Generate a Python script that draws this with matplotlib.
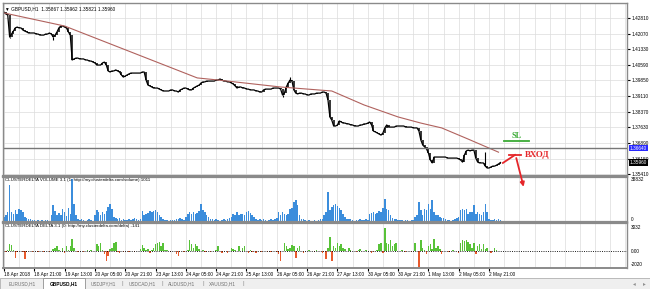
import numpy as np
import matplotlib.pyplot as plt
from matplotlib.patches import Rectangle

plt.rcParams['font.family'] = ['Liberation Sans', 'DejaVu Sans']

# GBPUSD H1 closes, one per bar (bar 0 = 18 Apr 2018)
close = [
    1.4309, 1.4300, 1.4295, 1.4191, 1.4205, 1.4219, 1.4234, 1.4238, 1.4234, 1.4234,
    1.4224, 1.4219, 1.4215, 1.4210, 1.4210, 1.4210, 1.4210, 1.4205, 1.4205, 1.4200,
    1.4200, 1.4200, 1.4205, 1.4205, 1.4210, 1.4205, 1.4191, 1.4200, 1.4215, 1.4234,
    1.4243, 1.4243, 1.4238, 1.4234, 1.4215, 1.4200, 1.4082, 1.4087, 1.4091, 1.4091,
    1.4087, 1.4087, 1.4087, 1.4082, 1.4082, 1.4077, 1.4077, 1.4072, 1.4068, 1.4058,
    1.4058, 1.4058, 1.4068, 1.4072, 1.4058, 1.4030, 1.4025, 1.4030, 1.4030, 1.4035,
    1.4030, 1.4025, 1.4011, 1.4001, 1.4006, 1.4011, 1.4016, 1.4020, 1.4020, 1.4020,
    1.4020, 1.4020, 1.4020, 1.4025, 1.4025, 1.3987, 1.3963, 1.3959, 1.3954, 1.3949,
    1.3949, 1.3949, 1.3944, 1.3940, 1.3935, 1.3935, 1.3935, 1.3935, 1.3940, 1.3940,
    1.3935, 1.3935, 1.3930, 1.3940, 1.3944, 1.3949, 1.3949, 1.3944, 1.3940, 1.3940,
    1.3949, 1.3954, 1.3959, 1.3963, 1.3973, 1.3978, 1.3978, 1.3982, 1.3982, 1.3982,
    1.3982, 1.3982, 1.3987, 1.3987, 1.3992, 1.3987, 1.3982, 1.3982, 1.3978, 1.3978,
    1.3973, 1.3968, 1.3959, 1.3949, 1.3954, 1.3954, 1.3949, 1.3949, 1.3944, 1.3944,
    1.3940, 1.3940, 1.3940, 1.3935, 1.3935, 1.3930, 1.3930, 1.3940, 1.3944, 1.3944,
    1.3944, 1.3944, 1.3949, 1.3949, 1.3949, 1.3949, 1.3944, 1.3916, 1.3925, 1.3954,
    1.3973, 1.3987, 1.3982, 1.3940, 1.3925, 1.3921, 1.3925, 1.3925, 1.3921, 1.3921,
    1.3916, 1.3916, 1.3921, 1.3921, 1.3921, 1.3925, 1.3925, 1.3925, 1.3930, 1.3930,
    1.3925, 1.3892, 1.3812, 1.3797, 1.3769, 1.3769, 1.3774, 1.3793, 1.3788, 1.3783,
    1.3783, 1.3779, 1.3779, 1.3774, 1.3774, 1.3769, 1.3769, 1.3769, 1.3774, 1.3774,
    1.3779, 1.3779, 1.3783, 1.3788, 1.3774, 1.3745, 1.3741, 1.3736, 1.3731, 1.3726,
    1.3736, 1.3760, 1.3774, 1.3764, 1.3764, 1.3764, 1.3764, 1.3769, 1.3769, 1.3769,
    1.3769, 1.3769, 1.3764, 1.3764, 1.3764, 1.3764, 1.3760, 1.3760, 1.3760, 1.3745,
    1.3703, 1.3679, 1.3670, 1.3660, 1.3641, 1.3608, 1.3594, 1.3622, 1.3622, 1.3622,
    1.3622, 1.3622, 1.3622, 1.3622, 1.3617, 1.3617, 1.3617, 1.3617, 1.3617, 1.3617,
    1.3613, 1.3608, 1.3598, 1.3632, 1.3651, 1.3655, 1.3651, 1.3655, 1.3655, 1.3617,
    1.3598, 1.3594, 1.3594, 1.3594, 1.3579, 1.3570, 1.3570, 1.3575, 1.3579, 1.3579,
    1.3584, 1.3589, 1.3596,
]
wick_bars = [3, 26, 147, 151, 254]
wick_vals = [1.4186, 1.4177, 1.3907, 1.4001, 1.3646]

# moving average read at a few bars
ma_bars = [0, 32, 102, 113, 146, 173, 190, 208, 220, 231, 245, 261]
ma_vals = [1.4305, 1.4243, 1.3997, 1.3987, 1.3954, 1.3935, 1.3869, 1.3812,
           1.3783, 1.3760, 1.3707, 1.3645]

volume = [
    4500, 6300, 9000, 33300, 9000, 7200, 10800, 7200, 11700, 10800,
    9000, 4500, 3600, 2700, 2700, 1800, 1800, 900, 1800, 900,
    1800, 900, 1800, 1800, 900, 6300, 15300, 9900, 6300, 8100,
    6300, 11700, 9000, 5400, 12600, 7200, 38832, 16200, 6300, 2700,
    1800, 2700, 1800, 900, 1800, 2700, 1800, 900, 6300, 10800,
    9000, 6300, 9000, 7200, 9900, 13500, 16200, 11700, 4500, 3600,
    2700, 3600, 1800, 2700, 1800, 1800, 2700, 1800, 2700, 3600,
    2700, 1800, 2700, 9900, 6300, 7200, 8100, 9900, 9000, 9900,
    10800, 9000, 6300, 4500, 2700, 1800, 1800, 900, 1800, 1800,
    1800, 2700, 2700, 3600, 2700, 1800, 4500, 7200, 9000, 7200,
    9000, 7200, 8100, 9900, 16200, 10800, 9000, 6300, 4500, 2700,
    2700, 1800, 2700, 1800, 900, 1800, 2700, 1800, 2700, 3600,
    4500, 7200, 6300, 9000, 6300, 7200, 7200, 6300, 9000, 9900,
    8100, 6300, 4500, 2700, 1800, 2700, 1800, 2700, 1800, 900,
    1800, 2700, 1800, 2700, 3600, 9000, 6300, 9000, 7200, 6300,
    7200, 11700, 12600, 18000, 19800, 15300, 6300, 2700, 2700, 1800,
    900, 1800, 900, 900, 1800, 900, 1800, 2700, 2700, 6300,
    9000, 27000, 10800, 13500, 15300, 16200, 14400, 12600, 10800, 7200,
    4500, 2700, 2700, 2700, 1800, 900, 1800, 1800, 2700, 1800,
    1800, 2700, 1800, 7200, 8100, 9000, 7200, 8100, 9900, 9000,
    12600, 20700, 11700, 10800, 6300, 3600, 2700, 2700, 1800, 1800,
    1800, 900, 1800, 1800, 900, 1800, 1800, 4500, 6300, 18000,
    10800, 6300, 11700, 10800, 16200, 11700, 19800, 9000, 6300, 6300,
    4500, 3600, 3600, 2700, 1800, 1800, 900, 1800, 2700, 3600,
    4500, 10800, 11700, 10800, 11700, 7200, 9000, 9000, 15300, 7200,
    9000, 7200, 6300, 9000, 16200, 9000, 2700, 1800, 1800, 2700,
    1800, 2700, 1800,
]

delta = [
    60, -50, 120, 880, 760, 130, -880, -120, 60, 50,
    -130, -1010, -110, 60, 40, -60, 70, 50, -40, 60,
    50, -60, 70, 40, -50, 60, 250, 380, 630, 120,
    60, 380, -250, 630, 130, 630, 1640, 380, 60, -50,
    60, 70, -60, 50, 120, 60, 130, 50, 70, 880,
    630, 1010, 120, -380, -1260, -630, 250, 380, 1010, 1260,
    -130, -250, 60, -50, 70, 60, -60, 50, 60, -50,
    60, 50, 250, 760, 380, 130, 250, -250, 120, 380,
    880, 1010, 1260, 630, 1010, 130, 120, 60, -50, 70,
    60, -380, -630, 60, 50, -60, 70, 130, 1510, 880,
    380, 880, 630, 250, 60, 130, -60, 70, 50, -60,
    60, 50, 130, 630, 60, -250, 50, 70, -250, 60,
    380, 250, 130, 60, 630, 70, 380, 630, 60, -250,
    130, -130, 60, -250, 50, 70, -60, 60, 50, -50,
    60, -130, 50, 70, -60, -380, -1260, 60, 1010, 630,
    250, 380, 760, 630, -880, 380, 630, 60, -250, 50,
    60, 130, 50, 70, -60, 130, 60, 50, -250, 70,
    -1010, 380, 1890, -1260, 630, 380, 1010, 630, 880, 380,
    250, 60, 380, 130, 50, 70, -60, 130, 250, 60,
    50, 130, 60, 70, -250, -130, 60, 130, 880, 1010,
    -250, 3032, 1010, 880, 1510, 630, 880, 1010, 60, 50,
    130, 60, -60, 70, 50, -50, 60, 1010, 60, -2020,
    1510, 380, 130, -380, 630, 880, 250, 1640, 380, 630,
    250, -380, 60, 50, 70, -60, 50, 130, 60, 70,
    -250, 1010, 1510, 1390, 1510, 1260, 880, 380, 1010, -380,
    630, 880, 250, 880, 250, 380, 60, -250, 70, 380,
    130, 60, 50,
]

time_labels = ['18 Apr 2018', '18 Apr 21:00', '19 Apr 13:00', '20 Apr 05:00',
               '20 Apr 21:00', '23 Apr 13:00', '24 Apr 05:00', '24 Apr 21:00',
               '25 Apr 13:00', '26 Apr 05:00', '26 Apr 21:00', '27 Apr 13:00',
               '30 Apr 05:00', '30 Apr 21:00', '1 May 13:00', '2 May 05:00',
               '2 May 21:00']
price_ticks = [1.42810, 1.42070, 1.41330, 1.40590, 1.39850, 1.39110,
               1.38370, 1.37630, 1.36890, 1.36150, 1.35410]
hline_price = 1.36640
bid_price = 1.35960
tabs = ['EURUSD,H1', 'GBPUSD,H1', 'USDJPY,H1', 'USDCAD,H1', 'AUDUSD,H1', 'XAUUSD,H1']

W, H = 650, 289
fs = 3.4
fig = plt.figure(figsize=(W / 100, H / 100), dpi=100)
fig.patch.set_facecolor('white')


def box(l, t, r, b):
    return [l / W, 1 - b / H, (r - l) / W, (b - t) / H]


ax = fig.add_axes(box(3, 3, 627, 176))
axv = fig.add_axes(box(3, 177, 627, 222))
axd = fig.add_axes(box(3, 223, 627, 268))
ax.set_zorder(5)

idx = np.arange(len(close))
xmin, xmax = -0.5, 328.8
grid_c = '#dcdcdc'
spine_c = '#8a8a8a'

for a in (ax, axv, axd):
    a.set_xlim(xmin, xmax)
    a.set_xticks(np.arange(0, 329, 8), minor=True)
    a.grid(True, which='both', axis='x', color=grid_c, lw=0.5)
    a.set_axisbelow(True)
    for s in a.spines.values():
        s.set_color(spine_c)
        s.set_linewidth(1.0)
    a.tick_params(which='minor', length=0)

# ---- price panel
opens = np.r_[close[0], close[:-1]]
lo = np.minimum(opens, close)
hi = np.maximum(opens, close)
ax.vlines(idx, lo, hi, color='black', lw=1.1)
ax.plot(idx, close, color='black', lw=0.9)
ax.vlines(wick_bars, [close[i] for i in wick_bars], wick_vals, color='black', lw=0.8)
ax.plot(ma_bars, ma_vals, color='#b0625e', lw=0.8)
ax.axhline(hline_price, color='#777777', lw=1.0)

ax.set_ylim(1.35321, 1.43521)
ax.set_xticks(np.arange(0, 329, 16))
ax.tick_params(axis='x', length=0, labelbottom=False)
ax.yaxis.tick_right()
ax.set_yticks(price_ticks)
ax.set_yticklabels(['%.5f' % p for p in price_ticks])
ax.tick_params(axis='y', labelsize=fs, length=2, pad=1.2, colors='black')
ax.grid(True, axis='y', color=grid_c, lw=0.5)
ax.spines['bottom'].set_linewidth(1.6)

ytr = ax.get_yaxis_transform()
ax.text(1.0045, hline_price, '%.5f' % hline_price, transform=ytr, fontsize=fs,
        color='white', va='center', ha='left',
        bbox=dict(facecolor='#2a2aff', edgecolor='none', pad=0.5))
ax.text(1.0045, bid_price, '%.5f' % bid_price, transform=ytr, fontsize=fs,
        color='white', va='center', ha='left',
        bbox=dict(facecolor='black', edgecolor='none', pad=0.5))
ax.text(0.003, 0.982, '\u25bc GBPUSD,H1  1.35867 1.35962 1.35821 1.35960',
        transform=ax.transAxes, fontsize=fs, va='top', ha='left',
        family=['Liberation Sans', 'DejaVu Sans'])

# hand-drawn marks
red = '#e5262a'
green = '#3aaa35'
ax.plot([263.3, 269.7], [1.3594, 1.3632], color=red, lw=1.3, clip_on=False)
ax.plot([266.5, 272.8], [1.3632, 1.3632], color=red, lw=1.3, clip_on=False)
ax.annotate('', xy=(274.6, 1.3468), xytext=(270.0, 1.3630),
            arrowprops=dict(arrowstyle='-|>', color=red, lw=1.3, mutation_scale=6),
            annotation_clip=False)
ax.text(274.8, 1.3634, 'ВХОД', color=red, fontsize=6.5, fontweight='bold',
        family=['Liberation Serif', 'DejaVu Serif'], va='center', ha='left',
        clip_on=False)
ax.plot([263.9, 277.0], [1.3698, 1.3698], color=green, lw=1.3, clip_on=False)
ax.text(270.5, 1.3722, 'SL', color=green, fontsize=6, fontweight='bold',
        family=['Liberation Serif', 'DejaVu Serif'], va='center', ha='center')

# ---- volume panel
axv.bar(idx, volume, width=0.8, color='#3b8ddc', lw=0)
axv.set_ylim(0, 40770)
axv.set_xticks(np.arange(0, 329, 16))
axv.tick_params(axis='x', length=0, labelbottom=False)
axv.set_yticks([])
axv.spines['top'].set_linewidth(1.6)
axv.spines['bottom'].set_linewidth(1.6)
vtr = axv.get_yaxis_transform()
axv.text(1.006, 38832, '38832', transform=vtr, fontsize=fs, va='center', ha='left')
axv.text(1.006, 0, '0', transform=vtr, fontsize=fs, va='bottom', ha='left')
axv.text(0.003, 0.97, 'CLUSTERDELTA VOLUME 3.1 (1: http://my.clusterdelta.com/volume) 1011',
         transform=axv.transAxes, fontsize=3.2, va='top', ha='left')

# ---- delta panel
dcol = ['#58c238' if d >= 0 else '#e85a2c' for d in delta]
axd.bar(idx, delta, width=0.8, color=dcol, lw=0)
axd.axhline(0, color='black', lw=0.6, ls=(0, (1.2, 1.5)))
axd.set_ylim(-2150, 3650)
axd.set_yticks([])
axd.spines['top'].set_linewidth(1.6)
axd.spines['bottom'].set_linewidth(1.4)
dtr = axd.get_yaxis_transform()
axd.text(1.006, 3032, '3032', transform=dtr, fontsize=fs, va='center', ha='left')
axd.text(1.006, 0, '0.00', transform=dtr, fontsize=fs, va='center', ha='left')
axd.text(1.006, -2020, '-2020', transform=dtr, fontsize=fs, va='bottom', ha='left')
axd.text(0.003, 0.97, 'CLUSTERDELTA DELTA 3.1 (0: http://my.clusterdelta.com/delta) -141',
         transform=axd.transAxes, fontsize=3.2, va='top', ha='left')
axd.set_xticks(np.arange(0, 16 * len(time_labels), 16))
axd.set_xticklabels(time_labels, ha='left')
axd.tick_params(axis='x', labelsize=fs, length=2, pad=1.2, colors='black')

# ---- bottom tab bar
fig.add_artist(Rectangle((0, 0), 1, 11 / H, transform=fig.transFigure,
                         facecolor='#efefef', edgecolor='#b0b0b0', lw=0.6))
fig.add_artist(Rectangle((43 / W, 0), 42 / W, 11 / H, transform=fig.transFigure,
                         facecolor='white', edgecolor='#909090', lw=0.6))
tab_x = [22, 64, 103, 142, 182, 222]
for name, tx in zip(tabs, tab_x):
    active = name == 'GBPUSD,H1'
    fig.text(tx / W, 5 / H, name, fontsize=fs, ha='center', va='center',
             color='black' if active else '#707070',
             fontweight='bold' if active else 'normal')
for sx in [122, 162, 203, 243]:
    fig.text(sx / W, 5 / H, '|', fontsize=4.5, ha='center', va='center', color='#909090')
fig.text(634 / W, 5 / H, '\u25c2', fontsize=4, ha='center', va='center', color='#909090',
         family='DejaVu Sans')
fig.text(644 / W, 5 / H, '\u25b8', fontsize=4, ha='center', va='center', color='#909090',
         family='DejaVu Sans')

fig.savefig('out.png', dpi=100)
